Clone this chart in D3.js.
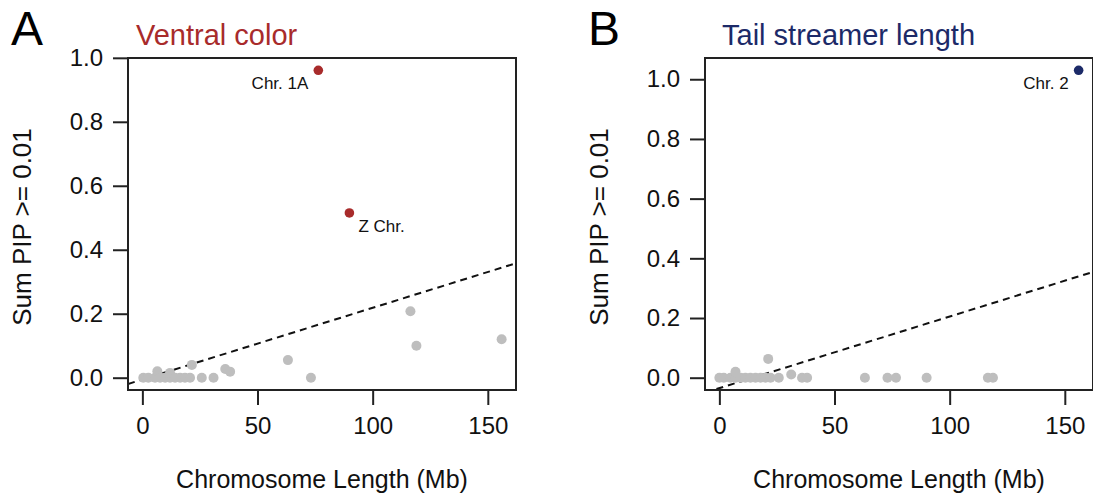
<!DOCTYPE html>
<html>
<head>
<meta charset="utf-8">
<script src="https://cdn.jsdelivr.net/npm/d3@7"></script>
<style>
  body { margin: 0; background: #fff; }
  svg { display: block; font-family: "Liberation Sans", Arial, Helvetica, sans-serif; }
</style>
</head>
<body>
<div id="root"></div>
<script>
/* Values */

// Panel A: ventral color
const ventralLength = [0.4, 2.6, 5.5, 6.5, 7.7, 9.9, 12, 12, 14.2, 16.4, 18.5, 20.7, 21.5, 25.8, 30.9, 36, 38.1, 63.2, 73.2, 116.4, 119, 156];
const ventralPip = [0, 0, 0, 0.02, 0, 0, 0, 0.015, 0, 0, 0, 0, 0.04, 0, 0, 0.027, 0.019, 0.055, 0, 0.208, 0.1, 0.12];
const ventralHitLabels = ['Chr. 1A', 'Z Chr.'];
const ventralHitLength = [76.4, 89.9];
const ventralHitPip = [0.961, 0.515];
const ventralFit = [-0.0055, 0.00224]; // intercept, slope

// Panel B: tail streamer length
const tailLength = [0, 1.9, 4.8, 7, 7, 9.2, 11.3, 13.5, 15.7, 17.9, 20, 21.2, 22.2, 25.8, 31.2, 35.9, 38.1, 63.2, 73, 76.7, 90, 116.6, 118.8];
const tailPip = [0, 0, 0, 0, 0.02, 0, 0, 0, 0, 0, 0, 0.063, 0, 0, 0.011, 0, 0, 0, 0, 0, 0, 0, 0];
const tailHitLabels = ['Chr. 2'];
const tailHitLength = [156];
const tailHitPip = [1.03];
const tailFit = [-0.035, 0.0024];

const yTicks = [0, 0.2, 0.4, 0.6, 0.8, 1.0];
const xTicks = [0, 50, 100, 150];

const width = 1093;
const height = 494;

const svg = d3.select('#root')
  .append('svg')
  .attr('width', width)
  .attr('height', height);

// R style axis range: data extent padded by 4% each side
function rRange(values) {
  const [lo, hi] = d3.extent(values);
  const pad = (hi - lo) * 0.04;
  return [lo - pad, hi + pad];
}

const xDomain = rRange([].concat(ventralLength, ventralHitLength, tailLength, tailHitLength));

function drawPanel(props) {
  const box = { left: 128, top: 58, width: 388, height: 332 };
  const g = svg.append('g')
    .attr('transform', `translate(${props.offsetX}, 0)`);

  const x = d3.scaleLinear()
    .domain(xDomain)
    .range([box.left, box.left + box.width]);
  const y = d3.scaleLinear()
    .domain(rRange([].concat(props.pip, props.hitPip)))
    .range([box.top + box.height, box.top]);

  const clipId = `clip-${props.letter}`;
  g.append('clipPath')
    .attr('id', clipId)
    .append('rect')
    .attr('x', box.left)
    .attr('y', box.top)
    .attr('width', box.width)
    .attr('height', box.height);

  // panel letter and title
  g.append('text')
    .attr('x', 11)
    .attr('y', 45)
    .attr('font-size', 48)
    .attr('fill', '#000')
    .text(props.letter);
  g.append('text')
    .attr('x', props.titleX)
    .attr('y', 45)
    .attr('font-size', 29)
    .attr('fill', props.color)
    .text(props.title);

  // fitted dashed line, clipped to the plot box
  const [a, b] = props.fit;
  g.append('line')
    .attr('clip-path', `url(#${clipId})`)
    .attr('x1', x(xDomain[0]))
    .attr('y1', y(a + b * xDomain[0]))
    .attr('x2', x(xDomain[1]))
    .attr('y2', y(a + b * xDomain[1]))
    .attr('stroke', '#111')
    .attr('stroke-width', 2)
    .attr('stroke-dasharray', '7,5');

  // grey points
  g.append('g')
    .selectAll('circle')
    .data(props.length.map((d, i) => [d, props.pip[i]]))
    .join('circle')
    .attr('cx', d => x(d[0]))
    .attr('cy', d => y(d[1]))
    .attr('r', 5)
    .attr('fill', '#bebebe');

  // highlighted chromosomes
  const hits = props.hitLength.map((d, i) => ({
    len: d, pip: props.hitPip[i], label: props.hitLabels[i], side: props.labelSide[i],
  }));
  g.append('g')
    .selectAll('circle')
    .data(hits)
    .join('circle')
    .attr('cx', d => x(d.len))
    .attr('cy', d => y(d.pip))
    .attr('r', 4.8)
    .attr('fill', props.color);
  g.append('g')
    .selectAll('text')
    .data(hits)
    .join('text')
    .attr('x', d => x(d.len) + (d.side === 'left' ? -10 : 9))
    .attr('y', d => y(d.pip) + 19)
    .attr('text-anchor', d => (d.side === 'left' ? 'end' : 'start'))
    .attr('font-size', 17)
    .attr('fill', '#111')
    .text(d => d.label);

  // axes
  const yAxis = g.append('g')
    .attr('transform', `translate(${box.left}, 0)`)
    .call(d3.axisLeft(y).tickValues(yTicks).tickFormat(d3.format('.1f'))
      .tickSize(15).tickPadding(10));
  const xAxis = g.append('g')
    .attr('transform', `translate(0, ${box.top + box.height})`)
    .call(d3.axisBottom(x).tickValues(xTicks).tickSize(15).tickPadding(12));
  [xAxis, yAxis].forEach(ax => {
    ax.select('.domain').remove();
    ax.selectAll('line').attr('stroke', '#222').attr('stroke-width', 2);
    ax.selectAll('text')
      .attr('font-size', 24)
      .attr('fill', '#111')
      .attr('font-family', '"Liberation Sans", Arial, Helvetica, sans-serif');
  });

  // plot box
  g.append('rect')
    .attr('x', box.left)
    .attr('y', box.top)
    .attr('width', box.width)
    .attr('height', box.height)
    .attr('fill', 'none')
    .attr('stroke', '#222')
    .attr('stroke-width', 2);

  // axis titles
  g.append('text')
    .attr('x', box.left + box.width / 2)
    .attr('y', 488)
    .attr('text-anchor', 'middle')
    .attr('font-size', 25)
    .attr('fill', '#111')
    .text('Chromosome Length (Mb)');
  g.append('text')
    .attr('transform', `translate(31, ${box.top + box.height / 2 + 3}) rotate(-90)`)
    .attr('text-anchor', 'middle')
    .attr('font-size', 26)
    .attr('fill', '#111')
    .text('Sum PIP >= 0.01');
}

drawPanel({
  offsetX: 0,
  letter: 'A',
  title: 'Ventral color',
  titleX: 136,
  color: '#a82b2b',
  length: ventralLength,
  pip: ventralPip,
  hitLength: ventralHitLength,
  hitPip: ventralHitPip,
  hitLabels: ventralHitLabels,
  labelSide: ['left', 'right'],
  fit: ventralFit,
});

drawPanel({
  offsetX: 577,
  letter: 'B',
  title: 'Tail streamer length',
  titleX: 145,
  color: '#1c2a68',
  length: tailLength,
  pip: tailPip,
  hitLength: tailHitLength,
  hitPip: tailHitPip,
  hitLabels: tailHitLabels,
  labelSide: ['left'],
  fit: tailFit,
});
</script>
</body>
</html>
